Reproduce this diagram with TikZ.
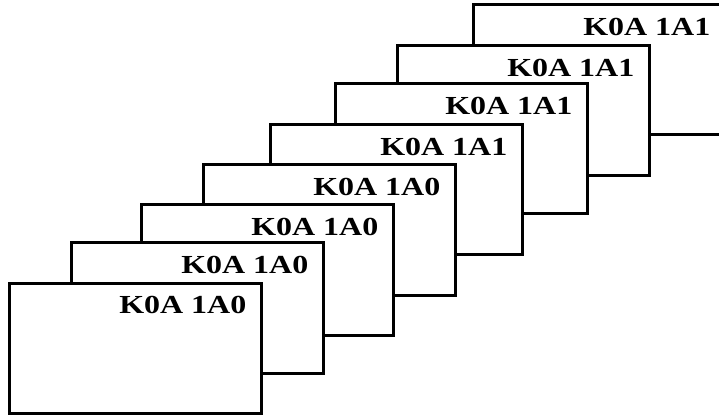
\documentclass[tikz,border=0pt]{standalone}
\usepackage{fontspec}
\setmainfont{Liberation Serif}
\usepackage{graphicx}

\tikzset{
  card/.style={rectangle,draw=black,fill=white,line width=3pt,minimum width=252pt,minimum height=130pt,inner sep=0pt},
  tag/.style={anchor=base east,inner sep=0pt,font=\fontsize{26}{30}\selectfont\bfseries}
}
\newcommand{\wide}[1]{\scalebox{1.23}[1]{#1}}

\begin{document}
\begin{tikzpicture}[x=1pt,y=1pt]
    \clip (0,0) rectangle (719,415);
    \node[card](c7)at(599,345){};
    \node[tag](t7)at([xshift=-16pt,yshift=-32pt]c7.north east){\wide{K0A 1A1}};
    \node[card](c6)at(523,304){};
    \node[tag](t6)at([xshift=-16pt,yshift=-32pt]c6.north east){\wide{K0A 1A1}};
    \node[card](c5)at(461,266){};
    \node[tag](t5)at([xshift=-16pt,yshift=-32pt]c5.north east){\wide{K0A 1A1}};
    \node[card](c4)at(396,225){};
    \node[tag](t4)at([xshift=-16pt,yshift=-32pt]c4.north east){\wide{K0A 1A1}};
    \node[card](c3)at(329,185){};
    \node[tag](t3)at([xshift=-16pt,yshift=-32pt]c3.north east){\wide{K0A 1A0}};
    \node[card](c2)at(267,145){};
    \node[tag](t2)at([xshift=-16pt,yshift=-32pt]c2.north east){\wide{K0A 1A0}};
    \node[card](c1)at(197,107){};
    \node[tag](t1)at([xshift=-16pt,yshift=-32pt]c1.north east){\wide{K0A 1A0}};
    \node[card](c0)at(135,67){};
    \node[tag](t0)at([xshift=-16pt,yshift=-32pt]c0.north east){\wide{K0A 1A0}};
\end{tikzpicture}
\end{document}
